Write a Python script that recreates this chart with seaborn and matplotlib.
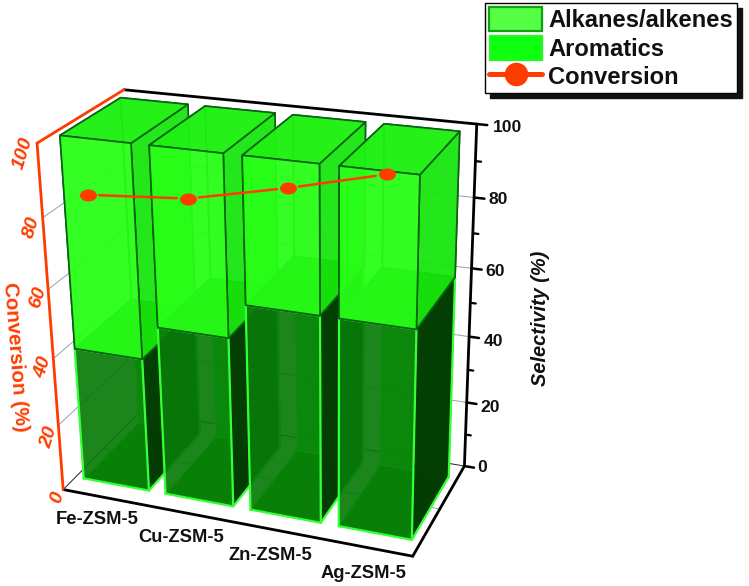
"""3D stacked selectivity bars with conversion line for metal-ZSM-5 catalysts."""
import numpy as np
import matplotlib
matplotlib.use('Agg')
import matplotlib.pyplot as plt
from matplotlib.lines import Line2D
from matplotlib.markers import MarkerStyle
from matplotlib.patches import Patch
from matplotlib.transforms import Affine2D
import seaborn as sns

catalysts = ['Fe-ZSM-5', 'Cu-ZSM-5', 'Zn-ZSM-5', 'Ag-ZSM-5']
aromatics = [40, 50, 60, 60]
alkanes = [60, 50, 40, 40]
conversion = [87, 87, 91, 97]
conversion_depth = [0.04, 0.15, 0.25, 0.27]
z_ticks = [0, 20, 40, 60, 80, 100]
z_minor = [10, 30, 50, 70, 90]

ORANGE = '#FF3C00'
W, H = 749, 586

sns.set_theme(style='white')
plt.rcParams['font.family'] = ['Liberation Sans', 'DejaVu Sans']

fig = plt.figure(figsize=(W / 100, H / 100), dpi=100)
# camera fitted on the corners of the reference box
ax = fig.add_axes([-18.91 / W, (H - 594.8) / H, 547.9 / W, 547.9 / H],
                  projection='3d', computed_zorder=False)
ax.view_init(23.87, -68.06, 1.09)
ax.set_proj_type('persp', focal_length=0.5627)
ax.set_box_aspect((1.0034, 0.5004, 1))
ax.set_axis_off()

XMIN, XMAX = -0.5, 3.5
ax.set_xlim(XMIN, XMAX)
ax.set_ylim(0, 1)
ax.set_zlim(0, 100)
ax.set_autoscale_on(False)

# grid on back wall, left wall and floor
GRID = '#8FA3AE'
for z in z_ticks[1:-1]:
    ax.plot([XMIN, XMAX], [1, 1], [z, z], color=GRID, lw=0.7, zorder=1)
    ax.plot([XMIN, XMIN], [0, 1], [z, z], color=GRID, lw=0.7, zorder=1)
ax.plot([XMIN, XMAX], [0.5, 0.5], [0, 0], color=GRID, lw=0.7, zorder=1)
ax.plot([XMIN, XMAX], [1, 1], [0, 0], color='#222222', lw=0.7, zorder=1)
ax.plot([XMIN, XMIN], [0, 1], [0, 0], color='#222222', lw=0.7, zorder=1)

# faces in bar3d order: -z, +z, -y, +y, -x, +x
low_faces = [(0.03, 0.62, 0.03, 1.0), (0.0, 0.55, 0.0, 1.0),
             (0.03, 0.48, 0.03, 0.82), (0.05, 0.78, 0.05, 0.95),
             (0.02, 0.50, 0.02, 0.55), (0.01, 0.23, 0.01, 0.98)]
top_faces = [(0.10, 0.90, 0.05, 0.0), (0.12, 0.94, 0.07, 0.96),
             (0.16, 1.00, 0.09, 0.93), (0.13, 0.95, 0.08, 0.35),
             (0.13, 0.95, 0.08, 0.25), (0.09, 0.90, 0.05, 0.92)]

BAR_W, Y0, Y1 = 0.8, 0.15, 0.855
order = 10
for i in range(len(catalysts)):
    x0, x1 = i - BAR_W / 2, i + BAR_W / 2
    ax.bar3d(x0, Y0, 0, BAR_W, Y1 - Y0, aromatics[i], color=low_faces, shade=False,
             edgecolor='#2EE82E', linewidth=0.7, zorder=order)
    ax.plot([x0, x1, x1, x0, x0], [Y0] * 5, [0, 0, aromatics[i], aromatics[i], 0],
            color='#35FF35', lw=1.6, zorder=order + 1)
    ax.plot([x1, x1], [Y0, Y1], [0, 0], color='#35FF35', lw=1.6, zorder=order + 1)
    ax.plot([x1, x1], [Y1, Y1], [0, aromatics[i]], color='#35FF35', lw=1.6, zorder=order + 1)
    ax.bar3d(x0, Y0, aromatics[i], BAR_W, Y1 - Y0, alkanes[i], color=top_faces, shade=False,
             edgecolor='#0A6212', linewidth=1.2, zorder=order + 2)
    order += 5

# box edges
ax.plot([XMIN, XMAX], [0, 0], [0, 0], color='black', lw=2.0, zorder=5)
ax.plot([XMAX, XMAX], [0, 1], [0, 0], color='black', lw=2.0, zorder=5)
ax.plot([XMAX, XMAX], [1, 1], [0, 100], color='black', lw=2.0, zorder=5)
ax.plot([XMIN, XMAX], [1, 1], [100, 100], color='black', lw=2.0, zorder=5)
ax.plot([XMIN, XMIN], [0, 0], [0, 100], color=ORANGE, lw=2.0, zorder=5)
ax.plot([XMIN, XMIN], [0, 1], [100, 100], color=ORANGE, lw=2.0, zorder=5)
for z in z_ticks:
    ax.plot([XMAX, XMAX + 0.11], [1, 1], [z, z], color='black', lw=1.8, zorder=5)
for z in z_minor:
    ax.plot([XMAX, XMAX + 0.06], [1, 1], [z, z], color='black', lw=1.6, zorder=5)

# conversion line, broken around the symbols
GAP = 0.11
for i in range(len(catalysts) - 1):
    xs = [i + GAP, i + 1 - GAP]
    ys = [conversion_depth[i] + GAP * (conversion_depth[i + 1] - conversion_depth[i]),
          conversion_depth[i + 1] - GAP * (conversion_depth[i + 1] - conversion_depth[i])]
    zs = [conversion[i] + GAP * (conversion[i + 1] - conversion[i]),
          conversion[i + 1] - GAP * (conversion[i + 1] - conversion[i])]
    ax.plot(xs, ys, zs, color=ORANGE, lw=1.8, zorder=60)
flat_dot = MarkerStyle('o', transform=Affine2D().scale(1.4, 1))
ax.plot(range(len(catalysts)), conversion_depth, conversion, ls='none', marker=flat_dot,
        ms=8.7, mfc=ORANGE, mec='none', zorder=61)


def label(px, py, s, **kw):
    fig.text(px / W, 1 - py / H, s, ha='center', va='center', **kw)


# tick labels and axis titles
right_pos = [(482, 468), (490, 407), (493, 342), (495, 272), (498, 200), (507, 128)]
left_pos = [(57, 497), (49, 437), (43, 367), (38, 297), (32, 227), (23, 153)]
for z, p, q in zip(z_ticks, right_pos, left_pos):
    label(*p, str(z), fontsize=12.6, fontweight='bold', color='#111111')
    label(*q, str(z), fontsize=14, fontweight='bold', style='italic', color=ORANGE, rotation=73)
label(15, 357, 'Conversion (%)', fontsize=14.8, fontweight='bold', color=ORANGE, rotation=-85.5)
label(540, 318, 'Selectivity (%)', fontsize=14.4, fontweight='bold', style='italic',
      color='#111111', rotation=90)
for name, p in zip(catalysts, [(97, 520), (181, 538), (270, 556), (363, 574)]):
    label(*p, name, fontsize=13.2, fontweight='bold', color='#111111')

handles = [Patch(facecolor='#55FF44', edgecolor='#12A012', linewidth=1.6, label='Alkanes/alkenes'),
           Patch(facecolor='#10FF10', edgecolor='#30F030', linewidth=1.0, label='Aromatics'),
           Line2D([], [], color=ORANGE, lw=3.6, marker='o', ms=17, mec='none', label='Conversion')]
fig.legend(handles=handles, loc='upper left', bbox_to_anchor=(485 / W, 1 - 3 / H), numpoints=1,
           fancybox=False, framealpha=1, edgecolor='black',
           shadow={'ox': 3.6, 'oy': -3.6, 'facecolor': '#111111', 'edgecolor': '#111111', 'alpha': 1},
           prop={'weight': 'bold', 'size': 17.1}, labelcolor='#111111',
           handlelength=2.25, handleheight=1.2, handletextpad=0.25, labelspacing=0.14,
           borderpad=0.16, borderaxespad=0)

fig.savefig('out.png', dpi=100)
